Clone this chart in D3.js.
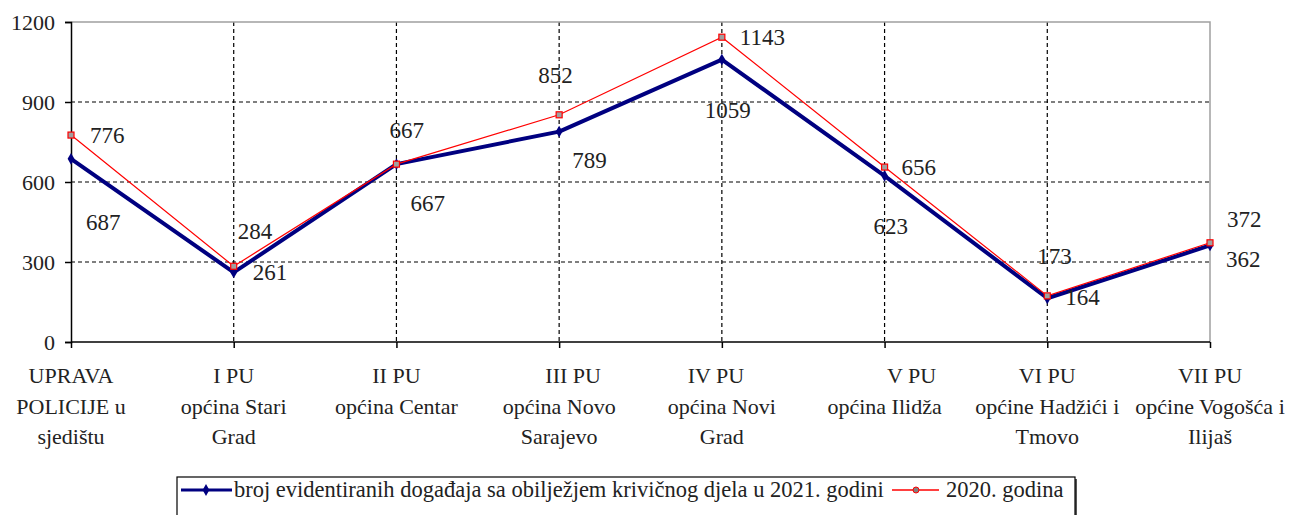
<!DOCTYPE html>
<html>
<head>
<meta charset="utf-8">
<script src="https://cdn.jsdelivr.net/npm/d3@7"></script>
<style>
  html, body { margin: 0; padding: 0; background: #fff; }
</style>
</head>
<body>
<svg id="chart" width="1300" height="515"></svg>
<script>
// categories, one entry per line of the wrapped axis label
const categories = [
    ["UPRAVA", "POLICIJE u", "sjedištu"],
    ["I PU", "općina Stari", "Grad"],
    ["II PU", "općina Centar"],
    ["III PU", "općina Novo", "Sarajevo"],
    ["IV PU", "općina Novi", "Grad"],
    ["V PU", "općina Ilidža"],
    ["VI PU", "općine Hadžići i", "Tmovo"],
    ["VII PU", "općine Vogošća i", "Ilijaš"]
];
const values2021 = [687, 261, 667, 789, 1059, 623, 164, 362];
const values2020 = [776, 284, 667, 852, 1143, 656, 173, 372];
const yTicks = [0, 300, 600, 900, 1200];
const legendLabels = ["broj evidentiranih događaja sa obilježjem krivičnog djela u 2021. godini", "2020. godina"];

// where the value labels sit relative to their point (left edge, vertical centre)
const offsets2021 = [[15, 64], [19, 1], [14, 40], [13, 29], [-17, 51], [-11, 51], [18, 0], [16, 15]];
const offsets2020 = [[19, 1], [4, -34], [-7, -33], [-21, -39], [18, 1], [17, 1], [-10, -39], [17, -23]];
// first lines of some axis labels are pushed right in the original
const firstLineShift = [0, 0, 0, 14, -6, 27, 0, 0];

const FONT = "'Liberation Serif', 'Times New Roman', serif";

const svg = d3.select("#chart").attr("font-family", FONT);
const margin = { left: 71, right: 90, top: 22, bottom: 173 };
const width = 1300, height = 515;

const x = d3.scalePoint()
    .domain(d3.range(categories.length))
    .range([margin.left, width - margin.right]);

const y = d3.scaleLinear()
    .domain([0, 1200])
    .range([height - margin.bottom, margin.top]);

const x0 = margin.left, x1 = width - margin.right;
const y0 = y(0), y1 = y(1200);

// grid
const grid = svg.append("g");
grid.selectAll("line.h")
    .data(yTicks.filter(d => d > 0 && d < 1200))
    .enter().append("line")
    .attr("x1", x0).attr("x2", x1)
    .attr("y1", d => y(d)).attr("y2", d => y(d))
    .attr("stroke", "#000").attr("stroke-width", 1.2)
    .attr("stroke-dasharray", "4,3");

grid.selectAll("line.v")
    .data(d3.range(1, categories.length - 1))
    .enter().append("line")
    .attr("x1", d => x(d)).attr("x2", d => x(d))
    .attr("y1", y1).attr("y2", y0)
    .attr("stroke", "#000").attr("stroke-width", 1.2)
    .attr("stroke-dasharray", "4,3");

// top and right border
svg.append("path")
    .attr("d", `M${x0},${y1}H${x1}V${y0}`)
    .attr("fill", "none")
    .attr("stroke", "#a0a0a0")
    .attr("stroke-width", 1.5);

// y axis
const yAxis = svg.append("g")
    .attr("transform", `translate(${x0},0)`)
    .call(d3.axisLeft(y).tickValues(yTicks).tickSize(6).tickPadding(10).tickFormat(d3.format("d")))
    .attr("font-family", FONT)
    .attr("font-size", null);
yAxis.select(".domain").attr("stroke", "#000").attr("stroke-width", 1.5);
yAxis.selectAll(".tick line").attr("stroke", "#000").attr("stroke-width", 1.5);
yAxis.selectAll(".tick text")
    .attr("font-size", 22)
    .attr("fill", "#222");

// x axis
const xAxis = svg.append("g")
    .attr("transform", `translate(0,${y0})`)
    .call(d3.axisBottom(x).tickSize(6).tickFormat(""));
xAxis.select(".domain").attr("stroke", "#000").attr("stroke-width", 1.5)
    .attr("d", `M${x0},0H${x1}`);
xAxis.selectAll(".tick line").attr("stroke", "#000").attr("stroke-width", 1.5);

const catLabels = svg.append("g").selectAll("text")
    .data(categories)
    .enter().append("text")
    .attr("text-anchor", "middle")
    .attr("font-size", 22)
    .attr("fill", "#222");
catLabels.each(function (lines, i) {
    d3.select(this).selectAll("tspan")
        .data(lines)
        .enter().append("tspan")
        .attr("x", (d, j) => x(i) + (j === 0 ? firstLineShift[i] : 0))
        .attr("y", (d, j) => y0 + 41 + j * 30.5)
        .text(d => d);
});

// series
const line = d3.line()
    .x((d, i) => x(i))
    .y(d => y(d));

svg.append("path")
    .datum(values2021)
    .attr("d", line)
    .attr("fill", "none")
    .attr("stroke", "#000080")
    .attr("stroke-width", 4)
    .attr("stroke-linejoin", "round");

svg.append("g").selectAll("path")
    .data(values2021)
    .enter().append("path")
    .attr("transform", (d, i) => `translate(${x(i)},${y(d)})`)
    .attr("d", d3.symbol(d3.symbolDiamond, 40))
    .attr("fill", "#000080");

svg.append("path")
    .datum(values2020)
    .attr("d", line)
    .attr("fill", "none")
    .attr("stroke", "#ff0000")
    .attr("stroke-width", 1.2);

svg.append("g").selectAll("rect")
    .data(values2020)
    .enter().append("rect")
    .attr("x", (d, i) => x(i) - 3)
    .attr("y", d => y(d) - 3)
    .attr("width", 6).attr("height", 6)
    .attr("fill", "#a0a0a0")
    .attr("stroke", "#ff0000")
    .attr("stroke-width", 1.2);

// value labels
function valueLabels(values, offsets) {
    svg.append("g").selectAll("text")
        .data(values)
        .enter().append("text")
        .attr("x", (d, i) => x(i) + offsets[i][0])
        .attr("y", (d, i) => y(d) + offsets[i][1] + 7)
        .attr("font-size", 23)
        .attr("fill", "#222")
        .text(d => d);
}
valueLabels(values2021, offsets2021);
valueLabels(values2020, offsets2020);

// legend
const legend = svg.append("g");
legend.append("rect")
    .attr("x", 179).attr("y", 479)
    .attr("width", 898).attr("height", 50)
    .attr("fill", "#555");
legend.append("rect")
    .attr("x", 177).attr("y", 477)
    .attr("width", 898).attr("height", 50)
    .attr("fill", "#fff")
    .attr("stroke", "#000")
    .attr("stroke-width", 1.2);

const legendY = 490;
legend.append("line")
    .attr("x1", 181).attr("x2", 232)
    .attr("y1", legendY).attr("y2", legendY)
    .attr("stroke", "#000080").attr("stroke-width", 3);
legend.append("path")
    .attr("transform", `translate(206,${legendY})`)
    .attr("d", d3.symbol(d3.symbolDiamond, 40))
    .attr("fill", "#000080");
legend.append("text")
    .attr("x", 234).attr("y", legendY + 7)
    .attr("font-size", 22.5)
    .attr("fill", "#222")
    .text(legendLabels[0]);

legend.append("line")
    .attr("x1", 892).attr("x2", 939)
    .attr("y1", legendY).attr("y2", legendY)
    .attr("stroke", "#ff0000").attr("stroke-width", 1.5);
legend.append("circle")
    .attr("cx", 916).attr("cy", legendY).attr("r", 3)
    .attr("fill", "#808080")
    .attr("stroke", "#ff0000");
legend.append("text")
    .attr("x", 946).attr("y", legendY + 7)
    .attr("font-size", 22.5)
    .attr("fill", "#222")
    .text(legendLabels[1]);
</script>
</body>
</html>
